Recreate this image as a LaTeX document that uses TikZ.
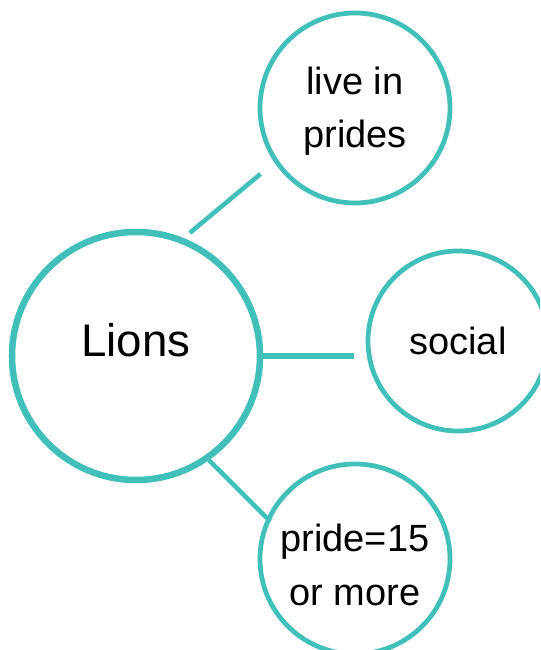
\documentclass[tikz,border=0pt]{standalone}
\usepackage{fontspec}
\setmainfont{Liberation Sans}
\definecolor{lionteal}{HTML}{41BFB9}

\begin{document}
\begin{tikzpicture}[
        hub/.style={circle,draw=lionteal,line width=3.7pt,minimum size=4.96cm,inner sep=0pt,font=\fontsize{26}{30}\selectfont},
        fact/.style={circle,draw=lionteal,line width=2.7pt,inner sep=0pt,align=center,font=\fontsize{21.6}{30.2}\selectfont},
        link/.style={draw=lionteal,line width=2.6pt}
    ]
    \clip (-2.72,-5.88) rectangle (8.08,7.12);
    \node[hub,text depth=0.66cm] (lions) at (0,0) {Lions};
    \node[fact,minimum size=3.8cm,text height=1.73cm] (live) at (4.38,4.96) {live in\\prides};
    \node[fact,minimum size=3.6cm] (social) at (6.44,0.30) {social};
    \node[fact,minimum size=3.8cm,text height=1.85cm] (pride) at (4.38,-4.06) {pride=15\\or more};
    \draw[link,shorten <=0.16cm,shorten >=0.36cm] (lions.68) -- (live.214);
    \draw[link,line width=3pt,shorten >=0.23cm] (lions.east) -- (lions.east -| social.west);
    \draw[link,shorten >=-0.1cm] (lions.-55) -- (pride.155);
\end{tikzpicture}
\end{document}
